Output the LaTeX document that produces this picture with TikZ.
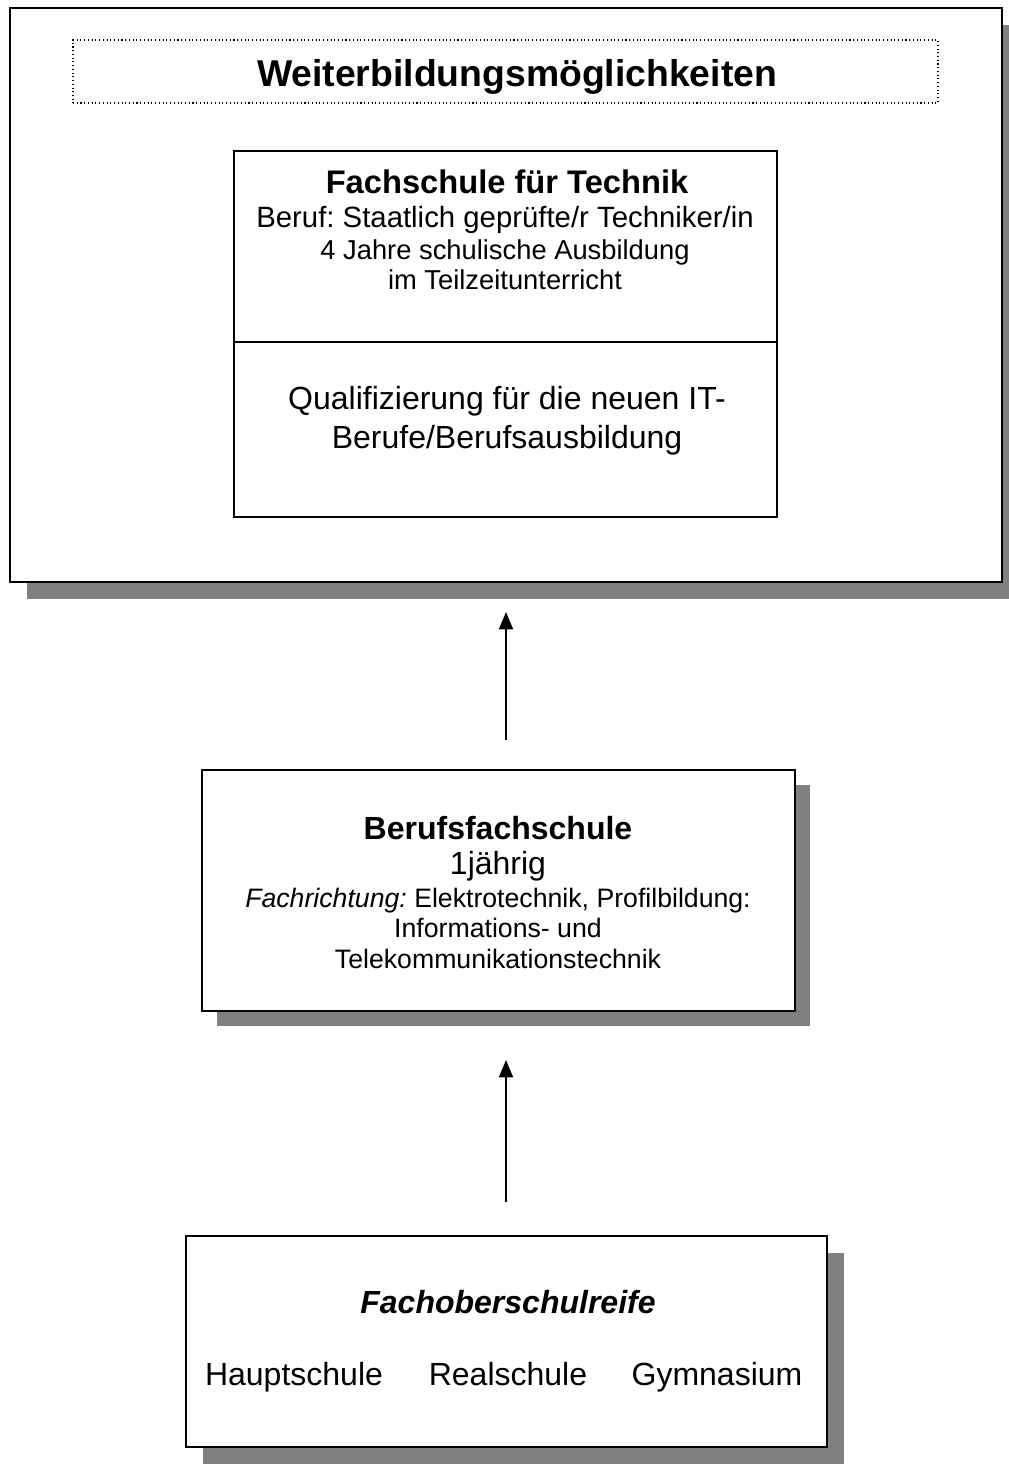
\documentclass[tikz,border=0pt]{standalone}
\usepackage{fontspec}
\setmainfont{Liberation Sans}
\usetikzlibrary{arrows.meta,shadows}
\definecolor{shadowgray}{HTML}{808080}
\frenchspacing
\begin{document}
\begin{tikzpicture}[x=0.75pt,y=-0.75pt,
  box/.style={draw, line width=1.3pt, fill=white, inner sep=0pt},
  shadowbox/.style={box, general shadow={fill=shadowgray, shadow xshift=#1, shadow yshift=-#1}},
  txt/.style={anchor=base, inner sep=0pt, font=\fontsize{20}{24}\selectfont},
  big/.style={anchor=base, inner sep=0pt, font=\fontsize{24}{28}\selectfont},
  up/.style={-{Triangle[width=10.5pt,length=13pt]}, line width=1.3pt}]
\useasboundingbox (0,0) rectangle (1009,1479);

% Weiterbildung
\node[shadowbox=12.75pt, minimum width=744pt, minimum height=430.5pt] (wb) at (506,295) {};
\node[draw, dotted, line width=0.8pt, minimum width=648.75pt, minimum height=47.25pt] (wbtitle) at (505.5,71.5) {};
\node[anchor=base, inner sep=0pt, font=\fontsize{28}{32}\selectfont\bfseries] (wbtext) at (517,86) {Weiterbildungsmöglichkeiten};

% Fachschule
\node[box, minimum width=407.25pt, minimum height=143.25pt] (fs) at (505.5,246.5) {};
\node[box, minimum width=407.25pt, minimum height=131.25pt] (it) at (505.5,429.5) {};
\node[big, font=\fontsize{24.5}{28}\selectfont\bfseries] (fshead) at (507,193) {Fachschule für Technik};
\node[txt, font=\fontsize{22}{26}\selectfont] (fsberuf) at (505,227) {Beruf: Staatlich geprüfte/r Techniker/in};
\node[txt, font=\fontsize{20.5}{24}\selectfont] (fsjahre) at (505,259) {4 Jahre schulische Ausbildung};
\node[txt, font=\fontsize{20.5}{24}\selectfont] (fsteil) at (505,289) {im Teilzeitunterricht};
\node[big] (itquali) at (507,409) {Qualifizierung für die neuen IT-};
\node[big] (itberufe) at (507,448) {Berufe/Berufsausbildung};

% Berufsfachschule
\node[shadowbox=11.25pt, minimum width=444.75pt, minimum height=180.75pt] (bfs) at (498.5,890.5) {};
\node[big, font=\fontsize{24}{28}\selectfont\bfseries] (bfshead) at (498,839) {Berufsfachschule};
\node[big] (bfsjahr) at (498,874) {1jährig};
\node[txt] (bfsricht) at (498,907) {\textit{Fachrichtung:} Elektrotechnik, Profilbildung:};
\node[txt] (bfsinfo) at (498,937) {Informations- und};
\node[txt] (bfstele) at (498,968) {Telekommunikationstechnik};

% Fachoberschulreife
\node[shadowbox=12.75pt, minimum width=480.75pt, minimum height=158.25pt] (fos) at (506.5,1341.5) {};
\node[big, font=\fontsize{24}{28}\selectfont\bfseries\itshape] (foshead) at (508,1313) {Fachoberschulreife};
\node[big] (haupt) at (294,1385) {Hauptschule};
\node[big] (real) at (508,1385) {Realschule};
\node[big] (gym) at (717,1385) {Gymnasium};

% Arrows
\coordinate (a1) at (506,740);
\coordinate (a1tip) at (506,612);
\coordinate (a2) at (506,1202);
\coordinate (a2tip) at (506,1060);
\draw[up] (a1) -- (a1tip);
\draw[up] (a2) -- (a2tip);
\end{tikzpicture}
\end{document}
